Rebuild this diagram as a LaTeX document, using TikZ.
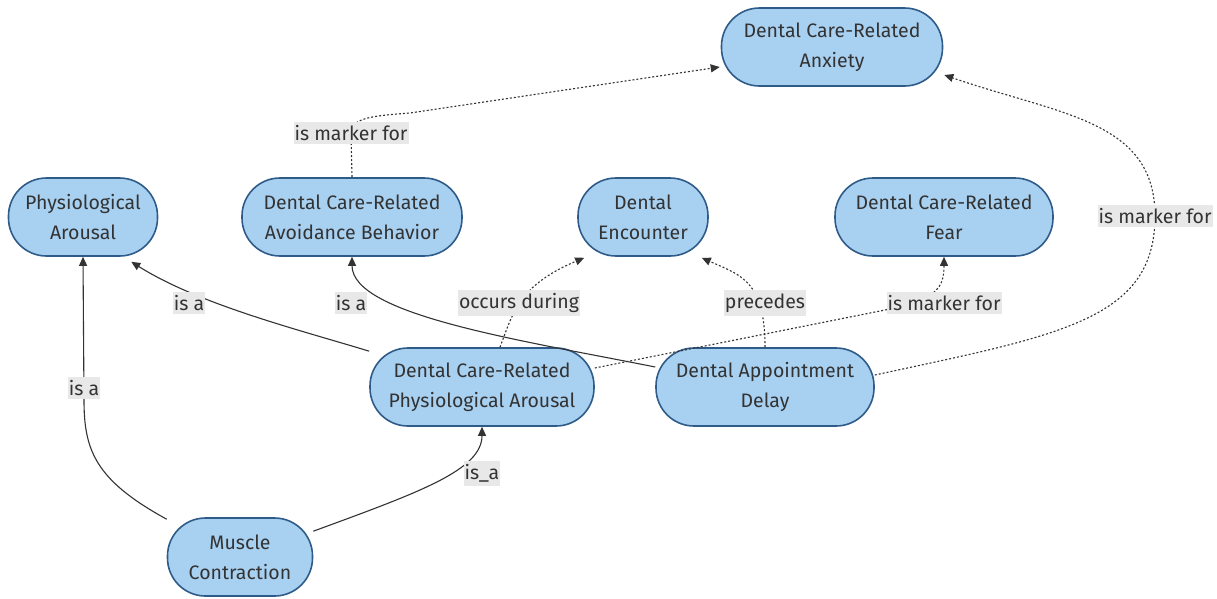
\documentclass[tikz,border=0pt]{standalone}
\usepackage{fontspec}
\setmainfont{Fira Sans}
\usetikzlibrary{arrows.meta,calc}
\definecolor{nodefill}{HTML}{A8D0F1}
\definecolor{nodeborder}{HTML}{2E5B88}
\definecolor{edgecol}{HTML}{333333}
\definecolor{lblbg}{HTML}{E8E8E8}
\definecolor{txt}{HTML}{333333}
\begin{document}
\begin{tikzpicture}[x=1pt,y=-1pt,
 concept/.style={draw=nodeborder, line width=1.6pt, fill=nodefill, rounded corners=38pt,
   minimum height=78pt, align=center, text=txt, font=\fontsize{19.5}{30}\selectfont},
 rel/.style={draw=edgecol, line width=1.1pt, -{Triangle[length=9pt,width=8pt]}},
 dotrel/.style={rel, dash pattern=on 2pt off 2pt},
 lbl/.style={fill=lblbg, text=txt, font=\fontsize{19.5}{22}\selectfont, inner xsep=1pt, inner ysep=3.5pt},
]
\useasboundingbox (0,0) rectangle (1217,598);
% nodes
\node[concept, minimum width=221pt] (anx) at (832,47) {Dental Care-Related\\Anxiety};
\node[concept, minimum width=149pt] (pa) at (83,217) {Physiological\\Arousal};
\node[concept, minimum width=220pt] (avoid) at (352,217) {Dental Care-Related\\Avoidance Behavior};
\node[concept, minimum width=130pt] (enc) at (643,217) {Dental\\Encounter};
\node[concept, minimum width=218pt] (fear) at (944,217) {Dental Care-Related\\Fear};
\node[concept, minimum width=224pt] (dcrpa) at (482,387) {Dental Care-Related\\Physiological Arousal};
\node[concept, minimum width=218pt] (delay) at (765,387) {Dental Appointment\\Delay};
\node[concept, minimum width=145pt] (mc) at (240,557) {Muscle\\Contraction};
% label positions
\coordinate (l1) at (351,133);
\coordinate (l2) at (1155,216);
\coordinate (l3) at (189,303);
\coordinate (l4) at (351,303);
\coordinate (l5) at (519,303);
\coordinate (l6) at (765,303);
\coordinate (l7) at (944,303);
\coordinate (l8) at (84,388);
\coordinate (l9) at (482,473);
% edges
\draw[dotrel] (avoid.north) -- (l1) .. controls (352,118) and (370,116) .. (410,113) -- ($(anx.west)+(-1,20)$);
\draw[dotrel] ($(delay.east)+(0,-12)$) .. controls (1060,335) and (1155,320) .. (l2) .. controls (1155,120) and (1060,115) .. ($(anx.east)+(1,28)$);
\draw[rel] ($(dcrpa.north west)+(0,4)$) .. controls (300,330) and (200,305) .. ($(pa.south east)+(-27,5)$);
\draw[rel] ($(delay.west)+(0,-20)$) .. controls (520,340) and (352,315) .. (avoid.south);
\draw[dotrel] ($(dcrpa.north)+(18,0)$) .. controls (510,320) .. (l5) .. controls (535,280) and (560,268) .. ($(enc.south west)+(7,1)$);
\draw[dotrel] (delay.north) .. controls (765,280) and (740,275) .. ($(enc.south east)+(-7,1)$);
\draw[dotrel] ($(dcrpa.east)+(0,-19)$) -- (880,311) .. controls (935,300) and (944,290) .. (fear.south);
\draw[rel] ($(mc.north west)+(0,2)$) .. controls (95,480) and (84,450) .. (84,400) -- (pa.south);
\draw[rel] ($(mc.north east)+(0,14)$) .. controls (420,492) and (482,470) .. (dcrpa.south);
% labels
\node[lbl] (t1) at (l1) {is marker for};
\node[lbl] (t2) at (l2) {is marker for};
\node[lbl] (t3) at (l3) {is a};
\node[lbl] (t4) at (l4) {is a};
\node[lbl] (t5) at (l5) {occurs during};
\node[lbl] (t6) at (l6) {precedes};
\node[lbl] (t7) at (l7) {is marker for};
\node[lbl] (t8) at (l8) {is a};
\node[lbl] (t9) at (l9) {is\_a};
\end{tikzpicture}
\end{document}
